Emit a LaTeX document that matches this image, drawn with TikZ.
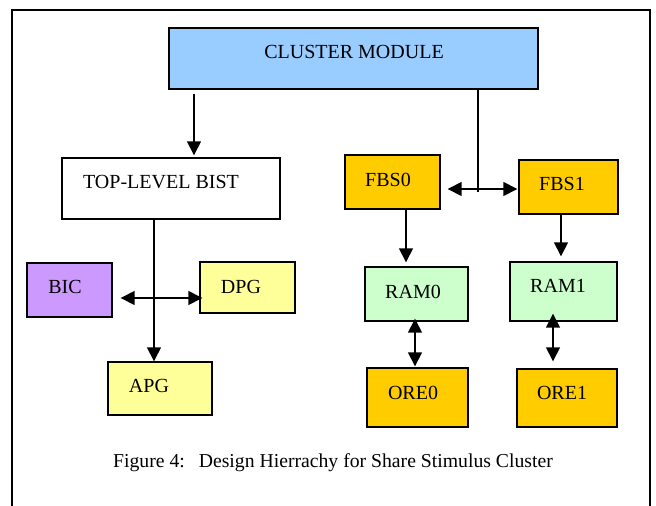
\documentclass[tikz,border=0pt]{standalone}
\usepackage{fontspec}
\setmainfont{Liberation Serif}
\usepackage{xcolor}
\usetikzlibrary{arrows.meta}

\definecolor{clusterblue}{HTML}{99CCFF}
\definecolor{fbsorange}{HTML}{FFCC00}
\definecolor{ramgreen}{HTML}{CCFFCC}
\definecolor{bicpurple}{HTML}{CC99FF}
\definecolor{genyellow}{HTML}{FFFF99}

\begin{document}
\begin{tikzpicture}[x=1pt,y=-1pt,
		font=\fontsize{20}{24}\selectfont,
		box/.style={draw,line width=1.4pt,fill=#1,inner sep=0pt},
		arr/.style={line width=1.5pt,-{Triangle[length=14pt,width=14pt]}},
		dbl/.style={line width=1.5pt,{Triangle[length=14pt,width=14pt]}-{Triangle[length=14pt,width=14pt]}}]
		\useasboundingbox (0,0) rectangle (656,506);
		% frame, open at the bottom
		\draw[line width=1.4pt] (12,506) -- (12,10) -- (650,10) -- (650,506);

		\node[box=clusterblue,minimum width=369,minimum height=61,label={[xshift=0.5,yshift=6.5]center:CLUSTER MODULE}] (cluster) at (353.5,58.5) {};
		\node[box=white,minimum width=218,minimum height=61,label={[xshift=-10,yshift=6.5]center:TOP-LEVEL BIST}] (bist) at (171,188.5) {};
		\node[box=fbsorange,minimum width=95,minimum height=54,label={[xshift=-4.5,yshift=2]center:FBS0}] (fbs0) at (392.5,182) {};
		\node[box=fbsorange,minimum width=99,minimum height=54,label={[xshift=-6.5,yshift=3]center:FBS1}] (fbs1) at (568.5,187) {};
		\node[box=ramgreen,minimum width=103,minimum height=54,label={[xshift=-3.5,yshift=2]center:RAM0}] (ram0) at (416.5,294) {};
		\node[box=ramgreen,minimum width=107,minimum height=59,label={[xshift=-5.5,yshift=5.5]center:RAM1}] (ram1) at (563.5,291.5) {};
		\node[box=fbsorange,minimum width=101,minimum height=59,label={[xshift=-4.5,yshift=4.5]center:ORE0}] (ore0) at (417.5,397.5) {};
		\node[box=fbsorange,minimum width=100,minimum height=58,label={[xshift=-5,yshift=5]center:ORE1}] (ore1) at (567,398) {};
		\node[box=bicpurple,minimum width=85,minimum height=54,label={[xshift=-4.5,yshift=3]center:BIC}] (bic) at (69.5,290) {};
		\node[box=genyellow,minimum width=95,minimum height=51,label={[xshift=-6.5,yshift=0.5]center:DPG}] (dpg) at (247.5,287.5) {};
		\node[box=genyellow,minimum width=104,minimum height=53,label={[xshift=-11,yshift=2.5]center:APG}] (apg) at (160,388.5) {};

		\coordinate (bus) at (478,189);

		\draw[arr,shorten >=2pt] ([xshift=-159.5,yshift=-4]cluster.south) -- ([xshift=23]bist.north);
		\draw[line width=1.5pt] (cluster.south -| bus) -- ([yshift=-3]bus);
		\draw[dbl,shorten <=7pt,shorten >=1pt] (bus -| fbs0.east) -- (bus -| fbs1.west);
		\draw[arr,shorten >=4pt] ([xshift=13.5]fbs0.south) -- ([xshift=-10.5]ram0.north);
		\draw[arr,shorten >=5pt] ([xshift=-7.5]fbs1.south) -- ([xshift=-2.5]ram1.north);
		\draw[dbl,shorten <=-3pt,shorten >=1pt] ([xshift=-1.5]ram0.south) -- ([xshift=-2.5]ore0.north);
		\draw[dbl,shorten <=-8pt,shorten >=7pt] ([xshift=-10.5]ram1.south) -- ([xshift=-14]ore1.north);
		\draw[arr] ([xshift=-17]bist.south) -- ([xshift=-6]apg.north);
		\draw[dbl,shorten <=8pt,shorten >=-3pt] ([yshift=-8]bic.east) -- ([yshift=-10.5]dpg.west);

		\node[font=\fontsize{19.7}{24}\selectfont] (caption) at (333,463) {Figure 4:\hspace{14pt}Design Hierrachy for Share Stimulus Cluster};
\end{tikzpicture}
\end{document}
